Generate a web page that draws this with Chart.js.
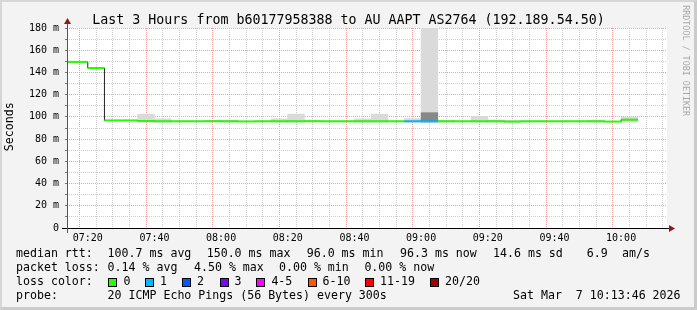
<!DOCTYPE html>
<html>
<head>
<meta charset="utf-8">
<script src="https://cdn.jsdelivr.net/npm/chart.js@4/dist/chart.umd.min.js"></script>
<style>
  html, body { margin: 0; padding: 0; background: #f3f3f3; }
  #wrap { position: relative; width: 697px; height: 310px; background: #f3f3f3; overflow: hidden; }
  #c { position: absolute; left: 0; top: 0; }
  .frame { position: absolute; left: 0; top: 0; width: 697px; height: 310px; box-sizing: border-box;
           border-style: solid; border-width: 2px 3px 3px 2px; border-color: #d6d6d6 #cbcbcb #cbcbcb #d6d6d6; pointer-events: none; }
  .t { position: absolute; font-family: 'DejaVu Sans Mono', monospace; white-space: pre; color: #000; }
  .lg { font-size: 11.6px; line-height: 11.6px; }
  .box { position: absolute; width: 7px; height: 7px; border: 1px solid #000; }
</style>
</head>
<body>
<div id="wrap">
  <canvas id="c" width="697" height="310"></canvas>
  <div class="frame"></div>
  <div class="t" style="left:0;width:697px;text-align:center;top:12.5px;font-size:13.3px;line-height:13.3px;">Last 3 Hours from b60177958388 to AU AAPT AS2764 (192.189.54.50)</div>
  <div class="t" style="left:-20px;top:121px;width:60px;text-align:center;font-size:11.6px;line-height:11.6px;transform:rotate(-90deg);">Seconds</div>
  <div class="t" style="left:631px;top:56px;width:110px;text-align:center;font-size:8.4px;line-height:8.4px;color:#a9a9a9;transform:rotate(90deg);">RRDTOOL / TOBI OETIKER</div>
  <div id="legend"></div>
</div>
<script>
// horario de cada intervalo de 5 minutos (inicio)
const slotStart = ['07:10','07:15','07:20','07:25','07:30','07:35','07:40','07:45','07:50','07:55',
                   '08:00','08:05','08:10','08:15','08:20','08:25','08:30','08:35','08:40','08:45',
                   '08:50','08:55','09:00','09:05','09:10','09:15','09:20','09:25','09:30','09:35',
                   '09:40','09:45','09:50','09:55','10:00'];
// mediana rtt (ms)
const medianRtt = [149.5,149.5,144.0,96.8,96.8,96.2,96.0,96.0,96.0,96.1,
                   96.0,95.9,96.0,96.0,96.0,96.1,96.0,96.0,96.0,96.0,
                   96.0,96.0,96.0,96.0,96.0,96.0,96.0,95.8,96.0,96.0,
                   96.0,96.0,96.0,95.8,97.5];
// pings perdidos por intervalo
const lossCount = [0,0,0,0,0,0,0,0,0,0, 0,0,0,0,0,0,0,0,0,0, 0,1,1,0,0,0,0,0,0,0, 0,0,0,0,0];
// humo (rango de pings) claro
const smokeLo = [null,null,null,null,null,95.3,95.3,null,null,null,
                 95.3,null,null,95.3,95.3,null,null,null,95.3,95.3,
                 null,95.3,95.3,95.3,null,95.3,95.3,95.3,null,null,
                 null,null,95.3,null,95.3];
const smokeHi = [null,null,null,null,null,102.5,98.3,null,null,null,
                 97.0,null,null,98.3,102.5,null,null,null,98.3,102.5,
                 null,98.5,200,97.0,null,100.5,97.3,97.0,null,null,
                 null,null,97.0,null,99.8];
// humo oscuro
const darkLo = [null,null,null,null,null,null,null,null,null,null, null,null,null,null,null,null,null,null,null,null, null,null,95.5,null,null,null,null,null,null,null, null,null,null,null,null];
const darkHi = [null,null,null,null,null,null,null,null,null,null, null,null,null,null,null,null,null,null,null,null, null,null,103.8,null,null,null,null,null,null,null, null,null,null,null,null];

const lossLabels = ['0','1','2','3','4-5','6-10','11-19','20/20'];
const lossColors = ['#26ff00','#00b8ff','#0059ff','#7e00ff','#ff00ff','#ff5500','#ff0000','#a10000'];

const startTime = '07:13:46';
const endTime = '10:13:46';
const step = 5;

function toMin(s) {
  const p = s.split(':').map(Number);
  return p[0] * 60 + p[1] + (p[2] || 0) / 60;
}
function fmt(v) {
  const h = Math.floor(v / 60), m = Math.round(v % 60);
  return String(h).padStart(2, '0') + ':' + String(m).padStart(2, '0');
}
function lossColor(n) {
  if (n <= 3) return lossColors[n];
  if (n <= 5) return lossColors[4];
  if (n <= 10) return lossColors[5];
  if (n <= 19) return lossColors[6];
  return lossColors[7];
}

// linea verde por tramos horizontales
const greenData = [];
slotStart.forEach((s, i) => {
  const x0 = toMin(s);
  greenData.push({ x: x0, y: medianRtt[i] }, { x: x0 + step, y: medianRtt[i] }, { x: x0 + step, y: null });
});
// linea fina escalonada
const stepData = slotStart.map((s, i) => ({ x: toMin(s), y: medianRtt[i] }));
stepData.push({ x: toMin(slotStart[slotStart.length - 1]) + step, y: medianRtt[medianRtt.length - 1] });

const smokeData = [];
const darkData = [];
slotStart.forEach((s, i) => {
  if (smokeHi[i] != null) smokeData.push({ x: toMin(s) + step / 2, y: [smokeLo[i], smokeHi[i]] });
  if (darkHi[i] != null) darkData.push({ x: toMin(s) + step / 2, y: [darkLo[i], darkHi[i]] });
});

const areaPlugin = {
  id: 'area',
  beforeDraw(chart) {
    const { ctx, chartArea: a } = chart;
    ctx.save();
    ctx.fillStyle = '#ffffff';
    ctx.fillRect(a.left, a.top, a.right - a.left, a.bottom - a.top);
    ctx.restore();
  },
  afterDraw(chart) {
    const { ctx, chartArea: a } = chart;
    const y0 = Math.round(chart.scales.y.getPixelForValue(0)) + 0.5;
    const x0 = Math.round(a.left) + 0.5;
    ctx.save();
    ctx.lineWidth = 1;
    ctx.strokeStyle = '#000';
    ctx.beginPath();
    ctx.moveTo(a.left - 5, y0);
    ctx.lineTo(a.right + 3, y0);
    ctx.stroke();
    ctx.strokeStyle = '#555';
    ctx.beginPath();
    ctx.moveTo(x0, a.bottom + 5);
    ctx.lineTo(x0, a.top - 4);
    ctx.stroke();
    ctx.fillStyle = '#8b1a1a';
    ctx.beginPath();
    ctx.moveTo(a.right + 8, y0);
    ctx.lineTo(a.right + 2, y0 - 3.5);
    ctx.lineTo(a.right + 2, y0 + 3.5);
    ctx.closePath();
    ctx.fill();
    ctx.beginPath();
    ctx.moveTo(x0, a.top - 10);
    ctx.lineTo(x0 - 3.5, a.top - 4);
    ctx.lineTo(x0 + 3.5, a.top - 4);
    ctx.closePath();
    ctx.fill();
    ctx.restore();
  }
};

new Chart(document.getElementById('c'), {
  type: 'line',
  data: {
    datasets: [
      {
        data: greenData, borderWidth: 2, pointRadius: 0, spanGaps: false, clip: 0, order: 0,
        borderCapStyle: 'butt',
        borderColor: lossColors[0],
        segment: { borderColor: c => lossColor(lossCount[Math.floor(c.p0DataIndex / 3)]) }
      },
      { data: stepData, stepped: true, borderWidth: 1, borderColor: '#202020', pointRadius: 0, clip: 0, order: 1 },
      { type: 'bar', data: darkData, backgroundColor: '#888888', borderWidth: 0, grouped: false,
        barPercentage: 1, categoryPercentage: 1, clip: 0, order: 2 },
      { type: 'bar', data: smokeData, backgroundColor: '#dadada', borderWidth: 0, grouped: false,
        barPercentage: 1, categoryPercentage: 1, clip: 0, order: 3 }
    ]
  },
  options: {
    responsive: false,
    animation: false,
    devicePixelRatio: 1,
    layout: { padding: { top: 28, right: 30, left: 0, bottom: 0 } },
    plugins: { legend: { display: false }, tooltip: { enabled: false } },
    scales: {
      x: {
        type: 'linear', offset: false,
        min: toMin(startTime), max: toMin(endTime),
        afterFit: s => { s.height = 82; },
        // marcas cada 5 minutos alineadas al reloj
        afterBuildTicks: s => {
          const t = [];
          for (let v = Math.ceil(s.min / step) * step; v <= s.max; v += step) t.push({ value: v });
          s.ticks = t;
        },
        border: { display: false, dash: [1, 1] },
        grid: {
          color: c => (c.tick && Math.round(c.tick.value) % 20 === 0) ? '#f2a0a0' : '#cfcfcf',
          tickLength: 3, tickColor: 'rgba(0,0,0,0)'
        },
        ticks: {
          autoSkip: false, maxRotation: 0, padding: 1,
          color: '#000', font: { family: 'DejaVu Sans Mono', size: 10 },
          callback: v => (Math.round(v) % 20 === 0) ? fmt(v) : ''
        }
      },
      y: {
        min: 0, max: 180,
        afterFit: s => { s.width = 67; },
        border: { display: false, dash: [1, 1] },
        grid: {
          color: c => (c.tick && c.tick.value % 20 === 0) ? '#f2a0a0' : '#cfcfcf',
          tickLength: 2, tickColor: '#777'
        },
        ticks: {
          stepSize: 10, autoSkip: false, padding: 6,
          color: '#000', font: { family: 'DejaVu Sans Mono', size: 10 },
          callback: v => v === 0 ? '0' : (v % 20 === 0 ? v + ' m' : '')
        }
      }
    }
  },
  plugins: [areaPlugin]
});

// texto de la leyenda inferior
const legendRows = [
  { y: 248.4, parts: [[16, 'median rtt:'], [107.6, '100.7 ms avg'], [206.7, '150.0 ms max'], [306.7, '96.0 ms min'],
                      [400, '96.3 ms now'], [493, '14.6 ms sd'], [586.7, '6.9'], [622, 'am/s']] },
  { y: 262.4, parts: [[16, 'packet loss:'], [107.6, '0.14 % avg'], [194, '4.50 % max'], [279, '0.00 % min'], [364.4, '0.00 % now']] },
  { y: 276.4, parts: [[16, 'loss color:']] },
  { y: 290.4, parts: [[16, 'probe:'], [107.6, '20 ICMP Echo Pings (56 Bytes) every 300s'], [513, 'Sat Mar  7 10:13:46 2026']] }
];
const boxX = [108.4, 145, 182, 219.6, 256.4, 307.6, 365, 430];
const leg = document.getElementById('legend');
legendRows.forEach(r => r.parts.forEach(([x, txt]) => {
  const d = document.createElement('div');
  d.className = 't lg';
  d.style.left = x + 'px';
  d.style.top = r.y + 'px';
  d.textContent = txt;
  leg.appendChild(d);
}));
lossLabels.forEach((lab, i) => {
  const b = document.createElement('div');
  b.className = 'box';
  b.style.left = boxX[i] + 'px';
  b.style.top = '278px';
  b.style.background = lossColors[i];
  leg.appendChild(b);
  const d = document.createElement('div');
  d.className = 't lg';
  d.style.left = (boxX[i] + 15) + 'px';
  d.style.top = '276.4px';
  d.textContent = lab;
  leg.appendChild(d);
});
</script>
</body>
</html>
